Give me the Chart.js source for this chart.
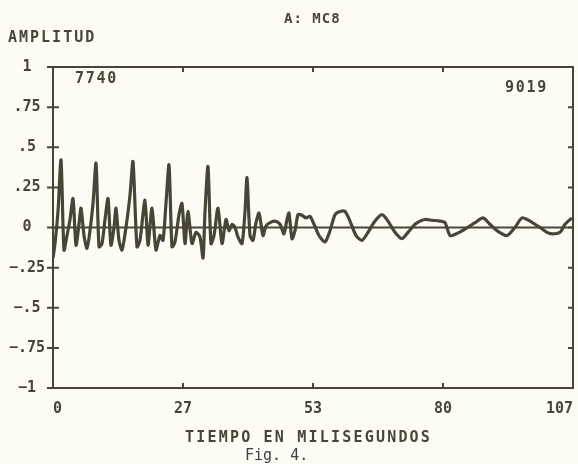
<!DOCTYPE html>
<html>
<head>
<meta charset="utf-8">
<script src="https://cdn.jsdelivr.net/npm/chart.js@4.4.0/dist/chart.umd.min.js"></script>
<style>
body{margin:0;background:#fdfcf4;}
#wrap{position:relative;width:578px;height:464px;}
.txt{position:absolute;font-family:"DejaVu Sans Mono",monospace;font-weight:bold;color:#4a4437;white-space:nowrap;line-height:1;}
</style>
</head>
<body>
<div id="wrap">
<canvas id="myChart" width="578" height="464"></canvas>
<div class="txt" style="left:284px;top:11px;font-size:14px;letter-spacing:1px">A: MC8</div>
<div class="txt" style="left:8px;top:30px;font-size:15px;letter-spacing:2px">AMPLITUD</div>
<div class="txt" style="left:75px;top:71px;font-size:15px;letter-spacing:1.7px">7740</div>
<div class="txt" style="left:505px;top:80px;font-size:15px;letter-spacing:1.7px">9019</div>
<div class="txt" style="left:185px;top:430px;font-size:15px;letter-spacing:2.2px">TIEMPO EN MILISEGUNDOS</div>
<div class="txt" style="left:245px;top:448px;font-size:15px;font-weight:normal;color:#3f3f3f">Fig. 4.</div>
</div>
<script>
// signal (time in ms, amplitude)
const timeMs = [0, 0.41, 1.03, 1.65, 2.26, 2.88, 3.50, 4.12, 4.73, 5.35, 5.76, 6.38, 7.00, 7.61, 8.23, 8.85,
  9.47, 10.08, 10.70, 11.32, 11.93, 12.55, 12.96, 13.58, 14.20, 15.02, 15.84, 16.46, 17.28, 17.90, 18.93,
  19.55, 20.37, 21.19, 22.02, 22.63, 23.25, 23.87, 24.49, 25.10, 25.93, 26.54, 27.16, 27.78, 28.60, 29.43,
  30.25, 30.87, 31.28, 31.89, 32.51, 33.13, 33.95, 34.78, 35.60, 36.22, 36.83, 37.45, 38.07, 38.89, 39.51,
  39.92, 40.54, 41.15, 41.77, 42.39, 43.21, 43.83, 44.65, 45.68, 46.71, 47.53, 48.15, 48.56, 49.18, 49.80,
  50.41, 51.03, 52.06, 52.88, 53.71, 54.73, 55.97, 57.00, 58.03, 59.06, 60.08, 61.11, 62.35, 63.58, 64.82,
  66.26, 67.70, 68.93, 70.37, 71.81, 73.05, 74.49, 75.52, 76.55, 77.99, 79.63, 80.66, 81.69, 82.92, 84.77,
  86.83, 88.48, 89.92, 91.36, 93.42, 95.06, 96.51, 98.15, 100.21, 101.65, 102.68, 104.33, 105.36, 106.79];
const amplitude = [-0.19, -0.10, 0.10, 0.42, -0.14, -0.05, 0.05, 0.18, -0.11, 0.02, 0.12, -0.05, -0.13, -0.02, 0.15, 0.40,
  -0.12, -0.10, 0.05, 0.18, -0.11, 0.00, 0.12, -0.08, -0.14, 0.00, 0.20, 0.41, -0.12, -0.08, 0.17,
  -0.11, 0.12, -0.14, -0.05, -0.08, 0.15, 0.39, -0.12, -0.09, 0.08, 0.15, -0.10, 0.10, -0.10, -0.03,
  -0.06, -0.19, 0.10, 0.38, -0.10, -0.05, 0.12, -0.10, 0.05, -0.02, 0.02, 0.00, -0.06, -0.10, 0.10,
  0.31, -0.05, -0.08, 0.03, 0.09, -0.05, 0.01, 0.03, 0.04, 0.02, -0.04, 0.05, 0.09, -0.07, -0.02,
  0.08, 0.08, 0.06, 0.07, 0.02, -0.05, -0.09, -0.02, 0.08, 0.10, 0.10, 0.04, -0.05, -0.08, -0.03,
  0.04, 0.08, 0.04, -0.03, -0.07, -0.03, 0.02, 0.04, 0.05, 0.045, 0.04, 0.03, -0.05, -0.04, -0.01,
  0.03, 0.06, 0.02, -0.02, -0.05, 0.00, 0.06, 0.04, 0.00, -0.03, -0.04, -0.03, 0.02, 0.06];
const zeroLineX = [0, 107];
const zeroLineY = [0, 0];

const xTickValues = [0, 26.75, 53.5, 80.25, 107];
const xTickLabels = ['0', '27', '53', '80', '107'];
const yTickValues = [-1, -0.75, -0.5, -0.25, 0, 0.25, 0.5, 0.75, 1];
const yTickLabels = ['\u22121', '\u2212.75', '\u2212.5', '\u2212.25', '0', '.25', '.5', '.75', '1'];

const ink = '#4a4437';

const frameTicks = {
  id: 'frameTicks',
  afterDatasetsDraw(chart) {
    const {ctx, chartArea: {left, right, top, bottom}, scales: {x, y}} = chart;
    ctx.save();
    ctx.strokeStyle = ink;
    ctx.lineWidth = 2;
    ctx.strokeRect(left, top, right - left, bottom - top);
    ctx.beginPath();
    x.ticks.forEach(t => {
      const px = x.getPixelForValue(t.value);
      ctx.moveTo(px, bottom); ctx.lineTo(px, bottom - 5);
      ctx.moveTo(px, top); ctx.lineTo(px, top + 5);
    });
    y.ticks.forEach(t => {
      const py = y.getPixelForValue(t.value);
      ctx.moveTo(left - 6, py); ctx.lineTo(left + 6, py);
      ctx.moveTo(right, py); ctx.lineTo(right - 5, py);
    });
    ctx.stroke();
    ctx.restore();
  }
};

const ctx = document.getElementById('myChart');
const chart = new Chart(ctx, {
  type: 'line',
  data: {
    datasets: [{
      data: timeMs.map((t, i) => ({x: t, y: amplitude[i]})),
      borderColor: ink,
      borderWidth: 3.2,
      pointRadius: 0,
      tension: 0.25
    }, {
      data: zeroLineX.map((t, i) => ({x: t, y: zeroLineY[i]})),
      borderColor: ink,
      borderWidth: 2,
      pointRadius: 0
    }]
  },
  options: {
    responsive: false,
    animation: false,
    layout: {padding: {top: 67, right: 5, left: 0, bottom: 0}},
    plugins: {legend: {display: false}, tooltip: {enabled: false}},
    scales: {
      x: {
        type: 'linear',
        min: 0,
        max: 107,
        afterFit: s => { s.height = 76; s.paddingLeft = 0; s.paddingRight = 0; },
        afterBuildTicks: s => { s.ticks = xTickValues.map(v => ({value: v})); },
        grid: {display: false, drawTicks: false},
        border: {display: false},
        ticks: {
          align: 'inner',
          padding: 12,
          color: ink,
          font: {family: 'DejaVu Sans Mono', size: 15, weight: 'bold'},
          callback: (v, i) => xTickLabels[i]
        }
      },
      y: {
        min: -1,
        max: 1,
        afterFit: s => { s.width = 53; },
        afterBuildTicks: s => { s.ticks = yTickValues.map(v => ({value: v})); },
        grid: {display: false, drawTicks: false},
        border: {display: false},
        ticks: {
          crossAlign: 'center',
          padding: 8,
          color: ink,
          font: {family: 'DejaVu Sans Mono', size: 15, weight: 'bold'},
          callback: (v, i) => yTickLabels[i]
        }
      }
    }
  },
  plugins: [frameTicks]
});
</script>
</body>
</html>
